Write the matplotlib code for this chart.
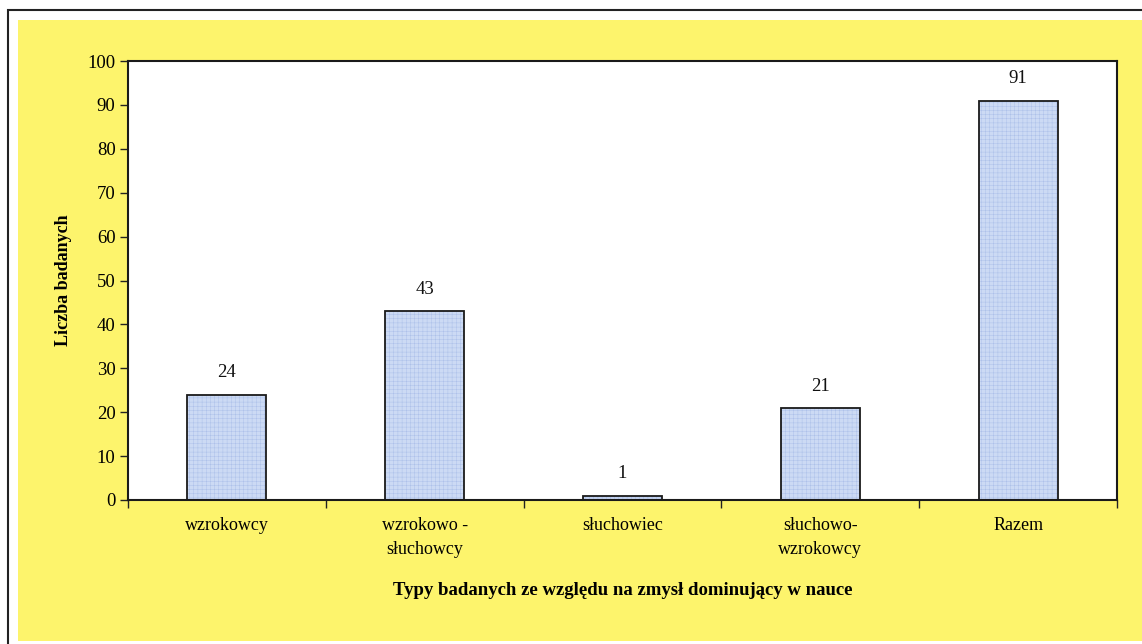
import matplotlib
matplotlib.use("Agg")
import matplotlib.pyplot as plt
from matplotlib.patches import Rectangle
import numpy as np

categories = ["wzrokowcy", "wzrokowo -\nsłuchowcy", "słuchowiec", "słuchowo-\nwzrokowcy", "Razem"]
values = [24, 43, 1, 21, 91]
y_ticks = [0, 10, 20, 30, 40, 50, 60, 70, 80, 90, 100]

plt.rcParams['font.family'] = ['Liberation Serif', 'DejaVu Serif']
plt.rcParams['hatch.linewidth'] = 0.3

W, H = 1142, 644
fig = plt.figure(figsize=(W / 100, H / 100), dpi=100)
fig.patch.set_facecolor('white')

# outer border and yellow background
fig.add_artist(Rectangle((8 / W, -0.01), 1.05, (H - 10) / H + 0.01, transform=fig.transFigure,
                         facecolor='white', edgecolor='#222222', linewidth=1.5, zorder=-20))
fig.add_artist(Rectangle((18 / W, 3 / H), 1.0, (H - 20 - 3) / H, transform=fig.transFigure,
                         facecolor='#fdf46c', edgecolor='none', zorder=-19))

ax = fig.add_axes([128 / W, (H - 500) / H, (1117 - 128) / W, (500 - 61) / H])
ax.set_facecolor('white')

x = np.arange(len(categories))
# hatched fill (light blue grid pattern)
ax.bar(x, values, width=0.4, color='#ccdaf4', edgecolor='#a8bde8', linewidth=0,
       hatch='++++', zorder=2)
# outlines
ax.bar(x, values, width=0.4, fill=False, edgecolor='#1a1a1a', linewidth=1.3, zorder=3)

for xi, v in zip(x, values):
    ax.text(xi, v + 3, str(v), ha='center', va='bottom', fontsize=13.5, color='#111111')

ax.set_xlim(-0.5, len(categories) - 0.5)
ax.set_ylim(0, 100)
ax.set_yticks(y_ticks)
ax.set_yticklabels([str(t) for t in y_ticks], fontsize=13.5)
ax.set_xticks(np.arange(-0.5, len(categories), 1.0))
ax.set_xticklabels([])
ax.set_xticks(x, minor=True)
ax.set_xticklabels(categories, minor=True, fontsize=13)
ax.tick_params(axis='x', which='minor', length=0, pad=12)
ax.tick_params(axis='x', which='major', direction='out', length=6, width=1, color='#222222')
ax.tick_params(axis='y', direction='out', length=6, width=1, color='#222222', pad=3)
for lbl in ax.get_xticklabels(minor=True):
    lbl.set_linespacing(1.6)

for s in ax.spines.values():
    s.set_linewidth(1.5)
    s.set_color('#1a1a1a')

ax.set_ylabel("Liczba badanych", fontsize=13, fontweight='bold', labelpad=11)
ax.set_xlabel("Typy badanych ze względu na zmysł dominujący w nauce", fontsize=13.5,
              fontweight='bold', labelpad=17)

fig.savefig("out.png", dpi=100)
